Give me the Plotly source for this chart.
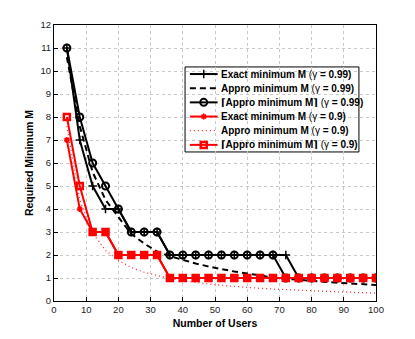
import plotly.graph_objects as go

# number of users (marker positions)
users = [4, 8, 12, 16, 20, 24, 28, 32, 36, 40, 44, 48, 52, 56, 60, 64, 68, 72, 76, 80, 84, 88, 92, 96, 100]

# gamma = 0.99
exact_99 = [11, 7, 5, 4, 4, 3, 3, 3, 2, 2, 2, 2, 2, 2, 2, 2, 2, 2, 1, 1, 1, 1, 1, 1, 1]
appro_99 = [10.6, 7.6, 5.6, 4.4, 3.65, 2.92, 2.5, 2.15, 1.95, 1.78, 1.63, 1.5, 1.38, 1.28, 1.2, 1.1, 1.02,
            0.97, 0.92, 0.87, 0.83, 0.79, 0.76, 0.73, 0.7]
ceil_99 = [11, 8, 6, 5, 4, 3, 3, 3, 2, 2, 2, 2, 2, 2, 2, 2, 2, 1, 1, 1, 1, 1, 1, 1, 1]

# gamma = 0.9
exact_9 = [7, 4, 3, 3, 2, 2, 2, 2, 1, 1, 1, 1, 1, 1, 1, 1, 1, 1, 1, 1, 1, 1, 1, 1, 1]
appro_9 = [7.6, 4.4, 2.95, 2.2, 1.76, 1.46, 1.25, 1.1, 0.98, 0.88, 0.8, 0.74, 0.68, 0.63, 0.59, 0.55, 0.52,
           0.49, 0.46, 0.44, 0.42, 0.4, 0.38, 0.36, 0.34]
ceil_9 = [8, 5, 3, 3, 2, 2, 2, 2, 1, 1, 1, 1, 1, 1, 1, 1, 1, 1, 1, 1, 1, 1, 1, 1, 1]

x_ticks = [0, 10, 20, 30, 40, 50, 60, 70, 80, 90, 100]
y_ticks = [0, 1, 2, 3, 4, 5, 6, 7, 8, 9, 10, 11, 12]

names = ['Exact minimum M', 'Appro minimum M', '⌈Appro minimum M⌉',
         'Exact minimum M', 'Appro minimum M', '⌈Appro minimum M⌉']
gammas = ['0.99', '0.99', '0.99', '0.9', '0.9', '0.9']

# styles per series (same order as names)
styles = [
    dict(line=dict(color='black', width=2), mode='lines+markers',
         marker=dict(symbol='cross-thin', size=6, line=dict(color='black', width=1.5))),
    dict(line=dict(color='black', width=2, dash='6px,4px'), mode='lines', marker=None),
    dict(line=dict(color='black', width=2), mode='lines+markers',
         marker=dict(symbol='circle-open', size=7, color='black', line=dict(width=2))),
    dict(line=dict(color='red', width=2), mode='lines+markers',
         marker=dict(symbol='asterisk', size=5, line=dict(color='red', width=1.5))),
    dict(line=dict(color='#ff3030', width=1.3, dash='1px,3px'), mode='lines', marker=None),
    dict(line=dict(color='red', width=2), mode='lines+markers',
         marker=dict(symbol='square-open', size=6, color='red', line=dict(width=2.5))),
]
series = [exact_99, appro_99, ceil_99, exact_9, appro_9, ceil_9]
draw_order = [4, 1, 0, 2, 3, 5]

fig = go.Figure()
for i in draw_order:
    st = styles[i]
    kw = dict(x=users, y=series[i], mode=st['mode'], line=st['line'], showlegend=False)
    if st['marker'] is not None:
        kw['marker'] = st['marker']
    fig.add_trace(go.Scatter(**kw))

# hand-made legend (box drawn in paper space, samples on an overlay axis 0..1)
lx0, lx1, ly0, ly1 = 0.407, 0.947, 0.540, 0.848
row_h = (ly1 - ly0) / 6
fig.add_shape(type='rect', xref='paper', yref='paper', x0=lx0, x1=lx1, y0=ly0, y1=ly1,
              line=dict(color='black', width=1), fillcolor='white', layer='between')
for k in range(6):
    yc = ly1 - row_h * (k + 0.5)
    st = styles[k]
    fig.add_trace(go.Scatter(x=[0.422, 0.508], y=[yc, yc], mode='lines', line=st['line'],
                             xaxis='x2', yaxis='y2', showlegend=False, hoverinfo='skip'))
    if st['marker'] is not None:
        fig.add_trace(go.Scatter(x=[0.465], y=[yc], mode='markers', marker=st['marker'],
                                 xaxis='x2', yaxis='y2', showlegend=False, hoverinfo='skip'))
    fig.add_annotation(x=0.512, y=yc, xref='paper', yref='paper', xanchor='left', yanchor='middle',
                       showarrow=False,
                       text='<b>%s</b> (γ <b>= %s)</b>' % (names[k], gammas[k]),
                       font=dict(family='Liberation Sans, DejaVu Sans', size=10, color='black'))

axis_common = dict(showgrid=True, gridcolor='#c8c8c8', griddash='dot', gridwidth=1,
                   showline=True, linecolor='black', linewidth=1, mirror=True,
                   ticks='inside', ticklen=4, tickcolor='black', zeroline=False, automargin=False,
                   tickfont=dict(family='Liberation Sans, Arial', size=9.5, color='#222'))

# page body has an 8px margin, so the figure is shrunk by 16px and margins shifted by 8px
fig.update_layout(
    width=399, height=323,
    margin=dict(l=46, r=31, t=17, b=30),
    plot_bgcolor='white', paper_bgcolor='white',
    xaxis=dict(range=[0, 100], tickvals=x_ticks, **axis_common,
               title=dict(text='<b>Number of Users</b>', standoff=5,
                          font=dict(family='Liberation Sans, Arial', size=10.5, color='black'))),
    yaxis=dict(range=[0, 12], tickvals=y_ticks, **axis_common,
               title=dict(text='<b>Required Minimum M</b>', standoff=4,
                          font=dict(family='Liberation Sans, Arial', size=10.5, color='black'))),
    xaxis2=dict(range=[0, 1], overlaying='x', visible=False, fixedrange=True),
    yaxis2=dict(range=[0, 1], overlaying='y', visible=False, fixedrange=True),
    showlegend=False,
)

fig.write_html("out.html")
